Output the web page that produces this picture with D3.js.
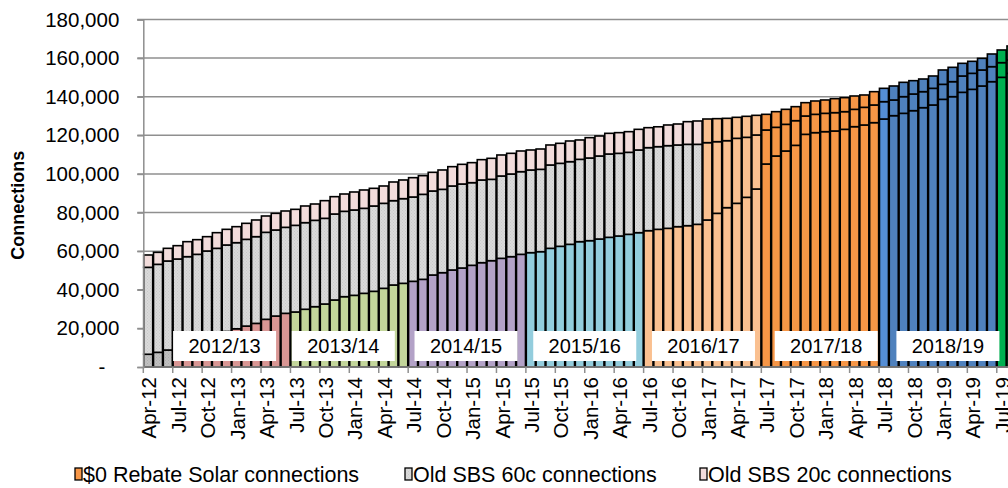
<!DOCTYPE html>
<html>
<head>
<meta charset="utf-8">
<script src="https://cdn.jsdelivr.net/npm/d3@7"></script>
<style>
  html, body { margin: 0; padding: 0; background: #fff; }
  svg { display: block; font-family: "Liberation Sans", Arial, sans-serif; }
</style>
</head>
<body>
<svg id="chart" width="1008" height="488"></svg>
<script>
// Monthly cumulative connections, Apr-12 to Aug-19
const months = [
  "Apr-12","May-12","Jun-12","Jul-12","Aug-12","Sep-12","Oct-12","Nov-12","Dec-12",
  "Jan-13","Feb-13","Mar-13","Apr-13","May-13","Jun-13","Jul-13","Aug-13","Sep-13","Oct-13","Nov-13","Dec-13",
  "Jan-14","Feb-14","Mar-14","Apr-14","May-14","Jun-14","Jul-14","Aug-14","Sep-14","Oct-14","Nov-14","Dec-14",
  "Jan-15","Feb-15","Mar-15","Apr-15","May-15","Jun-15","Jul-15","Aug-15","Sep-15","Oct-15","Nov-15","Dec-15",
  "Jan-16","Feb-16","Mar-16","Apr-16","May-16","Jun-16","Jul-16","Aug-16","Sep-16","Oct-16","Nov-16","Dec-16",
  "Jan-17","Feb-17","Mar-17","Apr-17","May-17","Jun-17","Jul-17","Aug-17","Sep-17","Oct-17","Nov-17","Dec-17",
  "Jan-18","Feb-18","Mar-18","Apr-18","May-18","Jun-18","Jul-18","Aug-18","Sep-18","Oct-18","Nov-18","Dec-18",
  "Jan-19","Feb-19","Mar-19","Apr-19","May-19","Jun-19","Jul-19","Aug-19"
];

// $0 Rebate Solar connections
const rebate = [
  6600, 7600, 8800, 10300, 12000, 13600, 15300, 16900, 18400, 19800,
  21200, 22600, 24700, 26400, 27800, 28500, 29900, 31250, 32630, 34710,
  36430, 37120, 38160, 39200, 40750, 42480, 43340, 44380, 45410, 47660,
  48860, 50250, 51280, 52670, 54040, 55080, 56290, 57150, 58360, 59230,
  59740, 61470, 62510, 63540, 64920, 65440, 66300, 67170, 67860, 68720,
  69580, 70620, 71310, 71830, 72690, 73210, 73900, 76150, 79600, 82540,
  84780, 87890, 92200, 105150, 109300, 111890, 114820, 120520, 121390, 121900,
  122250, 123110, 124490, 125360, 126570, 128460, 130190, 131400, 132780, 134330,
  135720, 138650, 140030, 142280, 143830, 145560, 147800, 150050, 152120
];

// Old SBS 60c connections
const sbs60 = [
  45030, 45580, 46110, 45640, 45150, 44760, 44790, 44570, 44800, 44600,
  44930, 44910, 45060, 44570, 44550, 44880, 44870, 44720, 44380, 44540,
  44210, 44210, 44030, 44200, 44030, 43680, 43860, 43680, 44030, 43510,
  43170, 43510, 43510, 42810, 42830, 42130, 42650, 42820, 42820, 42820,
  42650, 43170, 42990, 42820, 42650, 42820, 43000, 43160, 42820, 42480,
  42830, 43000, 42820, 42820, 42310, 42130, 41440, 40060, 37120, 34700,
  33670, 31080, 27980, 17620, 14850, 13810, 12780, 9500, 9490, 9500,
  9500, 9150, 8980, 9150, 9150, 8980, 8120, 8630, 8630, 8290,
  8630, 7770, 7770, 8460, 8290, 8290, 7770, 7600, 6910
];

// Old SBS 20c connections
const sbs20 = [
  6390, 6220, 6560, 6910, 7770, 7600, 7420, 8110, 8110, 8290,
  8290, 8640, 8460, 8630, 8460, 8290, 8630, 8460, 9150, 8980,
  8970, 9320, 9500, 9150, 8980, 9670, 9670, 10010, 9670, 9670,
  10020, 10010, 10190, 10370, 10530, 10880, 10880, 10710, 10710, 10360,
  10530, 10360, 10360, 10710, 10020, 10540, 10360, 10710, 10710, 10700,
  10700, 10350, 10300, 10710, 10870, 11740, 12090, 12250, 11920, 11570,
  10880, 10880, 10180, 8110, 8110, 7770, 7250, 6900, 6910, 6910,
  7250, 7260, 6910, 6390, 6900, 6910, 7250, 7430, 6910, 6560,
  6390, 7430, 7430, 6560, 6220, 6040, 6560, 6560, 7250
];

const yTicks = [0, 20000, 40000, 60000, 80000, 100000, 120000, 140000, 160000, 180000];
const fyLabels = ["2012/13", "2013/14", "2014/15", "2015/16", "2016/17", "2017/18", "2018/19"];
const seriesNames = ["$0 Rebate Solar connections", "Old SBS 60c connections", "Old SBS 20c connections"];

// Colours per financial year for the rebate bars
const fyColors = {
  "2011/12": "#c0c0c0",
  "2012/13": "#d99694",
  "2013/14": "#c3d69b",
  "2014/15": "#b3a2c7",
  "2015/16": "#93cddd",
  "2016/17": "#fac090",
  "2017/18": "#f79646",
  "2018/19": "#4f81bd",
  "2019/20": "#00b050"
};
const monthOverride = { "Jul-18": "#558ed5" };   // first month of 2018/19 is highlighted
const wholeBarFrom = "Jan-17";                    // from here the whole bar takes the year colour
const sbs60Color = "#dadada";
const sbs20Color = "#f2dcdb";

// label box horizontal nudges (px) for each financial-year tag
const fyLabelNudge = [-7, -6, -1, 0, 1, 6, 10];

const monthNames = ["Jan","Feb","Mar","Apr","May","Jun","Jul","Aug","Sep","Oct","Nov","Dec"];
function fyOf(m) {
  const [mon, yy] = m.split("-");
  const mi = monthNames.indexOf(mon);
  const start = +yy - (mi < 6 ? 1 : 0);
  return "20" + String(start).padStart(2, "0") + "/" + String(start + 1).padStart(2, "0");
}

const rows = months.map((m, i) => ({ month: m, rebate: rebate[i], sbs60: sbs60[i], sbs20: sbs20[i] }));
const keys = ["rebate", "sbs60", "sbs20"];
const stacked = d3.stack().keys(keys)(rows);

const svg = d3.select("#chart");
const W = 1008, H = 488;
const left = 143.3, bandW = 9.81, y0 = 367, yTop = 19.5;

const x = d3.scaleBand().domain(months).range([left, left + bandW * months.length]).padding(0);
const y = d3.scaleLinear().domain([0, 180000]).range([y0, yTop]);

// stipple fill for the grey series
const defs = svg.append("defs");
function stipple(id, base, dot) {
  const p = defs.append("pattern").attr("id", id).attr("patternUnits", "userSpaceOnUse")
    .attr("width", 3).attr("height", 3);
  p.append("rect").attr("width", 3).attr("height", 3).attr("fill", base);
  p.append("rect").attr("x", 0).attr("y", 0).attr("width", 1).attr("height", 1).attr("fill", dot);
  p.append("rect").attr("x", 1.5).attr("y", 1.5).attr("width", 1).attr("height", 1).attr("fill", dot);
}
stipple("grey60", sbs60Color, "#c9c9c9");
stipple("grey11", fyColors["2011/12"], "#adadad");

// gridlines
svg.append("g").selectAll("line").data(yTicks.filter(d => d > 0)).join("line")
  .attr("x1", left - 6).attr("x2", W)
  .attr("y1", d => y(d)).attr("y2", d => y(d))
  .attr("stroke", "#8f8f8f").attr("stroke-width", 1.5);

// bars
const wholeIdx = months.indexOf(wholeBarFrom);
function fillFor(key, d, i) {
  const m = d.data.month;
  const fy = fyOf(m);
  const yearCol = monthOverride[m] || fyColors[fy];
  if (key === "rebate") return fy === "2011/12" ? "url(#grey11)" : yearCol;
  if (i >= wholeIdx) return yearCol;
  return key === "sbs60" ? "url(#grey60)" : sbs20Color;
}

svg.append("g").selectAll("g").data(stacked).join("g")
  .each(function (layer) {
    d3.select(this).selectAll("rect").data(layer).join("rect")
      .attr("x", d => x(d.data.month) + 0.4)
      .attr("width", x.bandwidth() - 0.8)
      .attr("y", d => y(d[1]))
      .attr("height", d => y(d[0]) - y(d[1]))
      .attr("fill", (d, i) => fillFor(layer.key, d, i))
      .attr("stroke", "#000").attr("stroke-width", 1.6);
  });

// y axis
const yAxis = svg.append("g").attr("transform", `translate(${left},0)`)
  .call(d3.axisLeft(y).tickValues(yTicks).tickSize(6).tickPadding(18)
    .tickFormat(d => d === 0 ? "-" : d3.format(",")(d)));
yAxis.select(".domain").attr("stroke", "#8f8f8f").attr("stroke-width", 1.5);
yAxis.selectAll(".tick line").attr("stroke", "#8f8f8f").attr("stroke-width", 1.5);
yAxis.selectAll(".tick text").attr("font-size", 20.5).attr("fill", "#000")
  .attr("font-family", "Liberation Sans, Arial, sans-serif");
yAxis.selectAll(".tick text").filter(d => d === 0).attr("dx", -14);

// x axis
svg.append("line").attr("x1", left).attr("x2", W).attr("y1", y0).attr("y2", y0)
  .attr("stroke", "#8f8f8f").attr("stroke-width", 1.5);
const tickMonths = months.filter((m, i) => i % 3 === 0);
svg.append("g").selectAll("line").data(tickMonths).join("line")
  .attr("x1", d => x(d)).attr("x2", d => x(d))
  .attr("y1", y0).attr("y2", y0 + 6)
  .attr("stroke", "#8f8f8f").attr("stroke-width", 1.5);
svg.append("g").selectAll("text").data(tickMonths).join("text")
  .attr("transform", d => `translate(${x(d) + x.bandwidth() / 2 + 1},${y0 + 10}) rotate(-90)`)
  .attr("text-anchor", "end").attr("dy", "0.35em")
  .attr("font-size", 20.5).attr("fill", "#000")
  .text(d => d);

// axis title
svg.append("text")
  .attr("transform", `translate(18,${(yTop + y0) / 2 + 12}) rotate(-90)`)
  .attr("text-anchor", "middle").attr("dy", "0.35em")
  .attr("font-size", 18).attr("font-weight", "bold").attr("fill", "#000")
  .text("Connections");

// financial-year tags
const tags = svg.append("g");
fyLabels.forEach((fy, k) => {
  const inYear = months.filter(m => fyOf(m) === fy);
  const x1 = x(inYear[0]), x2 = x(inYear[inYear.length - 1]) + x.bandwidth();
  const cx = (x1 + x2) / 2 + fyLabelNudge[k];
  const bw = 103, bh = 30, by = 331;
  tags.append("rect").attr("x", cx - bw / 2).attr("y", by).attr("width", bw).attr("height", bh)
    .attr("fill", "#fff");
  tags.append("text").attr("x", cx).attr("y", by + bh / 2).attr("dy", "0.35em")
    .attr("text-anchor", "middle").attr("font-size", 20).attr("fill", "#000").text(fy);
});

// legend
const legendSwatch = [fyColors["2017/18"], "url(#grey60)", sbs20Color];
const legendX = [75, 405, 700];
const lg = svg.append("g");
seriesNames.forEach((name, k) => {
  lg.append("rect").attr("x", legendX[k]).attr("y", 468).attr("width", 7).attr("height", 12)
    .attr("fill", legendSwatch[k]).attr("stroke", "#000").attr("stroke-width", 1.3);
  lg.append("text").attr("x", legendX[k] + 8).attr("y", 474).attr("dy", "0.35em")
    .attr("font-size", 21.5).attr("fill", "#000").text(name);
});
</script>
</body>
</html>
